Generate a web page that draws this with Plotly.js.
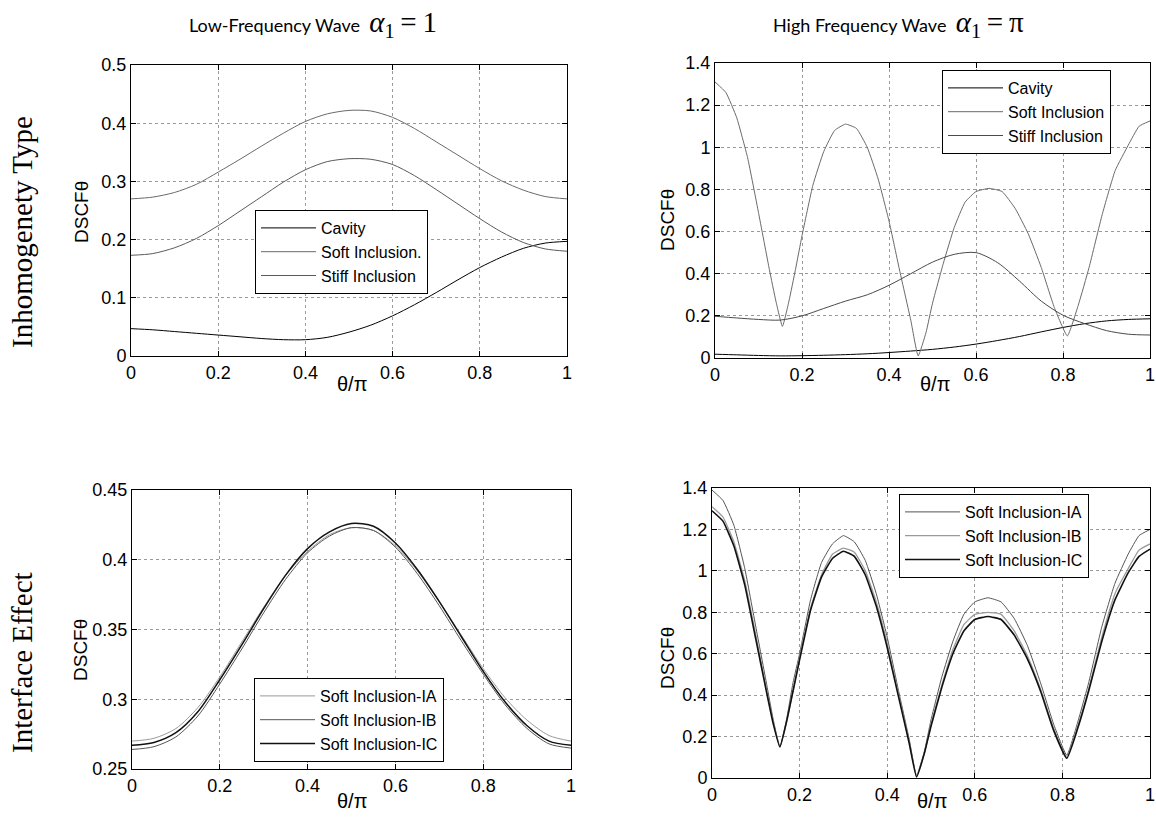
<!DOCTYPE html>
<html>
<head>
<meta charset="utf-8">
<script src="https://cdn.plot.ly/plotly-3.0.1.min.js"></script>
<style>html,body{margin:0;padding:0;background:#fff;}#chart{width:1156px;height:818px;}</style>
</head>
<body>
<div id="chart"></div>
<script>
// ---------- DATA ----------
const theta = [0,0.05,0.1,0.15,0.2,0.25,0.3,0.35,0.4,0.45,0.5,0.55,0.6,0.65,0.7,0.75,0.8,0.85,0.9,0.95,1.0];

// Low-frequency wave, inhomogeneity type
const lfCavity = [0.047,0.045,0.042,0.039,0.036,0.033,0.030,0.028,0.028,0.032,0.041,0.053,0.069,0.088,0.109,0.131,0.152,0.170,0.185,0.194,0.197];
const lfSoft   = [0.270,0.273,0.281,0.295,0.316,0.338,0.361,0.383,0.403,0.416,0.422,0.421,0.410,0.391,0.368,0.345,0.322,0.301,0.285,0.274,0.270];
const lfStiff  = [0.173,0.176,0.186,0.202,0.224,0.249,0.274,0.299,0.320,0.334,0.339,0.338,0.329,0.310,0.286,0.261,0.236,0.213,0.195,0.184,0.180];

// Low-frequency wave, interface effect
const lfIA = [0.270,0.272,0.279,0.294,0.316,0.341,0.366,0.389,0.406,0.418,0.423,0.421,0.410,0.392,0.370,0.346,0.322,0.301,0.285,0.274,0.270];
const lfIB = [0.264,0.266,0.273,0.288,0.311,0.336,0.362,0.386,0.405,0.417,0.423,0.421,0.409,0.390,0.367,0.342,0.318,0.296,0.279,0.268,0.265];
const lfIC = [0.267,0.269,0.276,0.291,0.314,0.339,0.365,0.389,0.408,0.420,0.426,0.424,0.412,0.393,0.370,0.345,0.320,0.298,0.281,0.270,0.267];

// High-frequency wave, inhomogeneity type
const hfCavity = [0.018,0.015,0.012,0.010,0.011,0.013,0.016,0.020,0.026,0.033,0.041,0.052,0.066,0.083,0.102,0.124,0.145,0.163,0.176,0.183,0.186];
const hfStiff  = [0.198,0.190,0.183,0.180,0.200,0.235,0.270,0.300,0.345,0.400,0.455,0.492,0.500,0.452,0.365,0.270,0.203,0.163,0.130,0.113,0.109];

// High-frequency wave, finer theta grid for oscillating curves
const thetaHF = [0,0.025,0.05,0.075,0.1,0.125,0.14,0.155,0.17,0.185,0.2,0.225,0.25,0.275,0.3,0.325,0.35,0.375,0.4,0.425,0.45,0.467,0.485,0.5,0.525,0.55,0.575,0.6,0.63,0.66,0.69,0.72,0.75,0.78,0.81,0.835,0.86,0.89,0.92,0.95,0.975,1.0];
const hfSoft = [1.31,1.26,1.14,0.95,0.69,0.42,0.27,0.15,0.27,0.42,0.58,0.82,0.98,1.08,1.11,1.09,1.00,0.85,0.65,0.41,0.18,0.01,0.12,0.26,0.45,0.62,0.74,0.79,0.805,0.79,0.71,0.59,0.43,0.24,0.105,0.25,0.43,0.68,0.89,1.01,1.10,1.125];
const hfIA = [1.39,1.34,1.22,1.01,0.73,0.45,0.28,0.15,0.28,0.46,0.60,0.86,1.04,1.13,1.17,1.14,1.05,0.89,0.68,0.43,0.19,0.01,0.13,0.28,0.49,0.66,0.79,0.85,0.87,0.85,0.77,0.64,0.46,0.26,0.11,0.27,0.46,0.73,0.94,1.08,1.17,1.20];
const hfIB = [1.31,1.26,1.14,0.95,0.69,0.42,0.27,0.15,0.27,0.42,0.58,0.82,0.98,1.08,1.11,1.09,1.00,0.85,0.65,0.41,0.18,0.01,0.12,0.26,0.45,0.62,0.74,0.79,0.80,0.79,0.71,0.59,0.43,0.24,0.10,0.25,0.43,0.68,0.89,1.01,1.10,1.13];
const hfIC = [1.29,1.24,1.12,0.93,0.67,0.41,0.26,0.15,0.27,0.42,0.57,0.81,0.97,1.06,1.095,1.07,0.98,0.83,0.63,0.40,0.17,0.005,0.12,0.25,0.44,0.60,0.71,0.765,0.78,0.765,0.69,0.575,0.42,0.23,0.095,0.24,0.42,0.66,0.86,0.99,1.07,1.105];

const namesType = ['Cavity','Soft Inclusion.','Stiff Inclusion'];
const namesTypeHF = ['Cavity','Soft Inclusion','Stiff Inclusion'];
const namesIface = ['Soft Inclusion-IA','Soft Inclusion-IB','Soft Inclusion-IC'];
const colTitles = ['Low-Frequency Wave','High Frequency Wave'];
const colMath = ['1','π'];
const rowTitles = ['Inhomogenety Type','Interface Effect'];

// ---------- LAYOUT HELPERS ----------
const W = 1156, H = 818;
const fx = p => p / W;
const fy = p => 1 - p / H;
const SANS = 'Liberation Sans, Arial, Helvetica, sans-serif';
const SERIF = 'Liberation Serif, Times New Roman, serif';

function tr(x, y, name, color, width, xa, ya, leg, smooth) {
  return {x:x, y:y, name:name, type:'scatter', mode:'lines',
    line:{color:color, width:width, shape:'spline', smoothing:smooth},
    xaxis:xa, yaxis:ya, legend:leg};
}

const data = [
  tr(theta, lfCavity, namesType[0], '#000000', 1, 'x', 'y', 'legend', 0.8),
  tr(theta, lfSoft,   namesType[1], '#6a6a6a', 1, 'x', 'y', 'legend', 0.8),
  tr(theta, lfStiff,  namesType[2], '#5a5a5a', 1, 'x', 'y', 'legend', 0.8),

  tr(theta,   hfCavity, namesTypeHF[0], '#000000', 1, 'x2', 'y2', 'legend2', 0.8),
  tr(thetaHF, hfSoft,   namesTypeHF[1], '#6a6a6a', 1, 'x2', 'y2', 'legend2', 0.4),
  tr(theta,   hfStiff,  namesTypeHF[2], '#4a4a4a', 1, 'x2', 'y2', 'legend2', 0.8),

  tr(theta, lfIA, namesIface[0], '#9a9a9a', 1, 'x3', 'y3', 'legend3', 0.8),
  tr(theta, lfIB, namesIface[1], '#555555', 1, 'x3', 'y3', 'legend3', 0.8),
  tr(theta, lfIC, namesIface[2], '#111111', 1.5, 'x3', 'y3', 'legend3', 0.8),

  tr(thetaHF, hfIA, namesIface[0], '#555555', 1, 'x4', 'y4', 'legend4', 0.4),
  tr(thetaHF, hfIB, namesIface[1], '#9a9a9a', 1.3, 'x4', 'y4', 'legend4', 0.4),
  tr(thetaHF, hfIC, namesIface[2], '#111111', 1.6, 'x4', 'y4', 'legend4', 0.4)
];

function ax(domain, range, dtick, anchor) {
  return {domain:domain, range:range, dtick:dtick, tick0:0, anchor:anchor,
    showline:true, linecolor:'#000', linewidth:1, mirror:'ticks',
    ticks:'inside', ticklen:5, tickcolor:'#000',
    showgrid:true, gridcolor:'#9a9a9a', griddash:'dot', gridwidth:1,
    zeroline:false, fixedrange:true, ticklabeloverflow:'allow',
    tickfont:{family:SANS, size:18, color:'#000'}};
}

function leg(x0, y0) {
  return {x:fx(x0), y:fy(y0), xanchor:'left', yanchor:'top',
    bgcolor:'#fff', bordercolor:'#000', borderwidth:1,
    font:{family:SANS, size:16, color:'#000'}, itemwidth:55,
    tracegroupgap:0, traceorder:'normal'};
}

const annotations = [];
function ann(x, y, text, size, family, angle) {
  annotations.push({xref:'paper', yref:'paper', x:fx(x), y:fy(y), text:text,
    showarrow:false, xanchor:'center', yanchor:'middle', textangle:angle||0,
    font:{family:family, size:size, color:'#000'}});
}

function mathPart(v) {
  return '<span style="font-family:Liberation Serif;font-size:29px"><i>α</i><sub>1</sub>\u2009=\u2009' + v + '</span>';
}
// Column titles
ann(313, 24, colTitles[0] + '  ' + mathPart(colMath[0]), 18, 'Lato, ' + SANS);
ann(898, 24, colTitles[1] + '  ' + mathPart(colMath[1]), 18, 'Lato, ' + SANS);
// Row titles
ann(22, 232, rowTitles[0], 29, SERIF, -90);
ann(22, 663, rowTitles[1], 29, SERIF, -90);
// Y titles
ann(82, 212, 'DSCFθ', 19, SANS, -90);
ann(667, 220, 'DSCFθ', 19, SANS, -90);
ann(80, 650, 'DSCFθ', 19, SANS, -90);
ann(667, 658, 'DSCFθ', 19, SANS, -90);
// X titles
ann(352, 384, 'θ/π', 20, SANS);
ann(935, 384, 'θ/π', 20, SANS);
ann(352, 801, 'θ/π', 20, SANS);
ann(932, 801, 'θ/π', 20, SANS);

const layout = {
  width:W, height:H, margin:{l:0, r:0, t:0, b:0},
  paper_bgcolor:'#fff', plot_bgcolor:'#fff',
  font:{family:SANS, color:'#000'},
  xaxis:  ax([fx(131), fx(567)], [0,1], 0.2, 'y'),
  yaxis:  ax([fy(356), fy(65)], [0,0.5], 0.1, 'x'),
  xaxis2: ax([fx(715), fx(1150)], [0,1], 0.2, 'y2'),
  yaxis2: ax([fy(358), fy(63)], [0,1.4], 0.2, 'x2'),
  xaxis3: ax([fx(132), fx(571)], [0,1], 0.2, 'y3'),
  yaxis3: ax([fy(769), fy(490)], [0.25,0.45], 0.05, 'x3'),
  xaxis4: ax([fx(712), fx(1150)], [0,1], 0.2, 'y4'),
  yaxis4: ax([fy(778), fy(488)], [0,1.4], 0.2, 'x4'),
  legend:  leg(255, 210),
  legend2: leg(942, 70),
  legend3: leg(254, 678),
  legend4: leg(899, 494),
  showlegend:true,
  annotations:annotations
};

Plotly.newPlot('chart', data, layout, {displayModeBar:false, staticPlot:true});
</script>
</body>
</html>
